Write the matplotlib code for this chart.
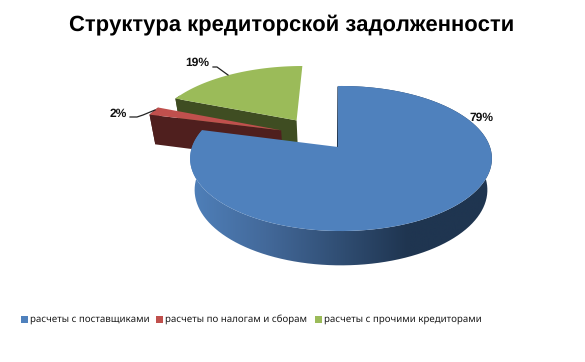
import numpy as np
import matplotlib
matplotlib.use('Agg')
import matplotlib.pyplot as plt
from matplotlib.colors import LinearSegmentedColormap
from matplotlib.patches import Polygon, Rectangle

plt.rcParams['text.hinting'] = 'none'
plt.rcParams['text.hinting_factor'] = 1

# chart values
categories = ['расчеты с поставщиками', 'расчеты по налогам и сборам', 'расчеты с прочими кредиторами']
shares = [79, 2, 19]
title = 'Структура кредиторской задолженности'

# look of the pie, in picture pixels
top_colors = ['#4F81BD', '#C0504D', '#9BBB59']
side_colors = ['#1F3550', '#4F1F1E', '#3F4D22']
explode = [(0.0, 0.0), (-0.417, 0.245), (-0.317, 0.40)]
apex_nudge = [-0.02, 0.0, 0.0]   # the big wedge's point sits a little left of centre
VX, VY = 341, 147    # pie centre on screen
RX, RY = 149, 70.7   # projected radii
TILT = 0.1586        # perspective: far side looks smaller
DEPTH = 31
SHRINK = 0.97
LAST_VISIBLE = 295   # outer wall turns away from the viewer past this angle


def project(u, v, bottom=False):
    """Map points of the pie plane to picture pixels."""
    d = 1 + TILT * v
    dx = RX * u / d
    dy = RY * v / d
    if bottom:
        return VX + SHRINK * dx, VY - SHRINK * dy + DEPTH / d
    return VX + dx, VY - dy


def arc(start, stop, off):
    a = np.radians(np.linspace(start, stop, 120))
    return np.sin(a) + off[0], np.cos(a) + off[1]


fig = plt.figure(figsize=(5.85, 3.62), dpi=100, facecolor='white')
ax = fig.add_axes([0, 0, 1, 1])
ax.set_axis_off()

stops = np.cumsum([0] + shares) * 3.6

# far wedges first, the big one last so it covers them
for i in [2, 1, 0]:
    start, stop = stops[i], stops[i + 1]
    off = explode[i]
    u, v = arc(start, stop, off)
    tx, ty = project(u, v)
    wall_u, wall_v = arc(start, min(stop, LAST_VISIBLE), off)
    wx, wy = project(wall_u, wall_v)
    bx, by = project(wall_u, wall_v, bottom=True)
    side = np.column_stack([np.r_[wx, bx[::-1]], np.r_[wy, by[::-1]]])

    if i == 0:
        # front of the big wedge fades from blue to dark navy
        cmap = LinearSegmentedColormap.from_list(
            'front', [(0, '#4F80BA'), (0.25, '#43699A'), (0.72, '#1F3550'), (1, '#1F3550')])
        img = ax.imshow(np.linspace(0, 1, 256)[None, :], cmap=cmap, aspect='auto',
                        extent=(bx.min() - 5, bx.max() + 5, by.max() + 5, ty.min() - 5), zorder=6)
        img.set_clip_path(Polygon(side, transform=ax.transData))
    else:
        ax.add_patch(Polygon(side, fc=side_colors[i], ec='none', zorder=(2 - i) * 3 + 1))
        # cut face turned to the viewer
        a = np.radians(start)
        cut_u = np.array([off[0], np.sin(a) + off[0]])
        cut_v = np.array([off[1], np.cos(a) + off[1]])
        cx, cy = project(cut_u, cut_v)
        dx, dy = project(cut_u, cut_v, bottom=True)
        face = np.column_stack([np.r_[cx, dx[::-1]], np.r_[cy, dy[::-1]]])
        ax.add_patch(Polygon(face, fc=side_colors[i], ec='none', zorder=(2 - i) * 3 + 1))

    vx, vy = project(np.array([off[0] + apex_nudge[i]]), np.array([off[1]]))
    tx[0] = tx[0] + RX * apex_nudge[i]   # keep the straight edge upright
    top = np.column_stack([np.r_[vx, tx], np.r_[vy, ty]])
    z = 7 if i == 0 else (2 - i) * 3 + 2
    ax.add_patch(Polygon(top, fc=top_colors[i], ec='none', zorder=z))

# dark seam on the straight edge of the big wedge
sx, sy = project(np.array([apex_nudge[0], apex_nudge[0]]), np.array([0.0, 0.98]))
ax.plot(sx - 0.5, sy, color='#1F3550', lw=0.8, zorder=6.5)

# percent labels
label_pos = [(481, 118), (118, 114), (197, 63)]
for val, (x, y) in zip(shares, label_pos):
    ax.text(x, y, f'{val}%', ha='center', va='center', fontsize=8.5, fontweight='bold',
            family='Liberation Sans', color='#111111', zorder=10)
ax.plot([130, 137, 143, 155], [117, 117, 115, 110], color='#222222', lw=0.9, zorder=10)
ax.plot([213, 217, 228], [67, 67, 75], color='#222222', lw=0.9, zorder=10)

ax.text(292, 25, title, ha='center', va='center', fontsize=16, fontweight='bold',
        family='Liberation Sans', color='black')

# legend along the bottom
swatch_x = [21, 156, 315]
for x, name, col in zip(swatch_x, categories, top_colors):
    ax.add_patch(Rectangle((x, 316), 6.5, 6.5, fc=col, ec='none'))
    ax.text(x + 9, 319.5, name, ha='left', va='center', fontsize=7.0, fontweight='bold',
            family='Noto Sans', color='#1a1a1a')

ax.set_xlim(0, 585)
ax.set_ylim(362, 0)
fig.savefig('out.png', dpi=100, facecolor='white')
